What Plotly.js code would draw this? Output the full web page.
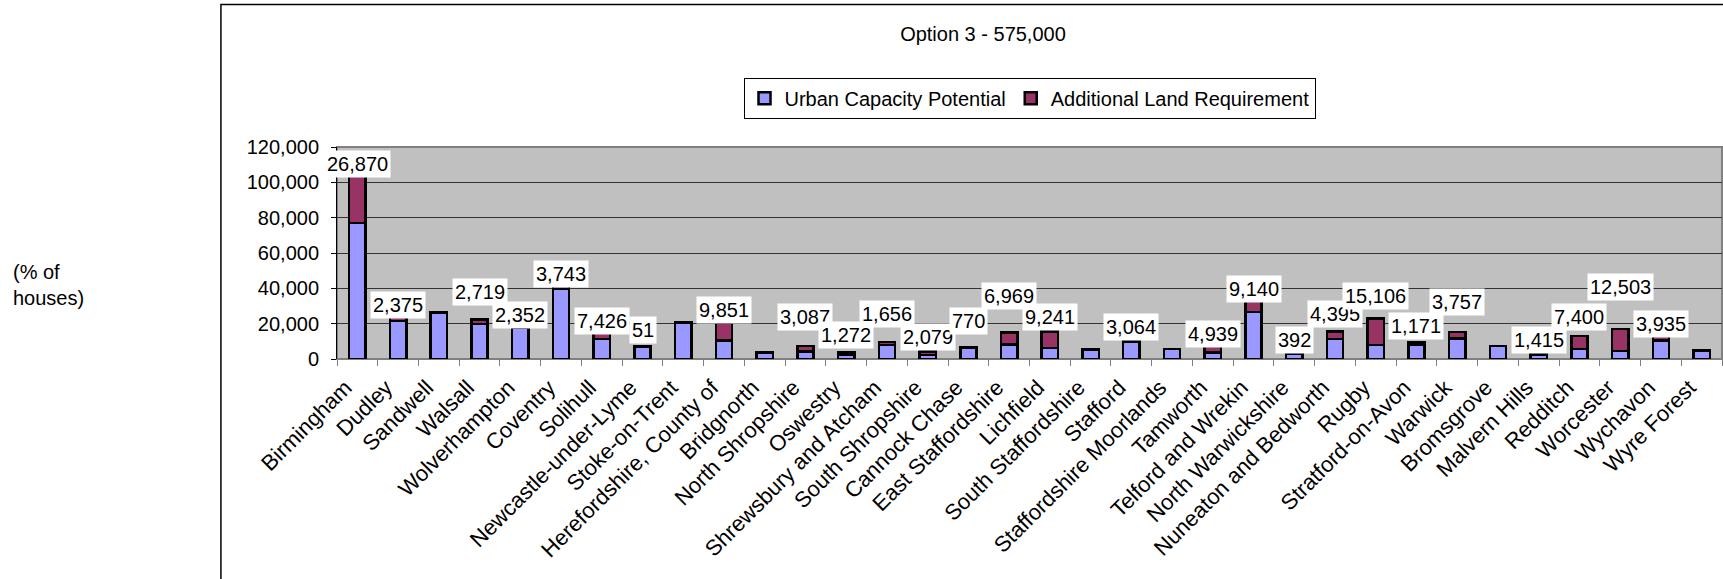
<!DOCTYPE html>
<html>
<head>
<meta charset="utf-8">
<script src="https://cdn.plot.ly/plotly-3.0.1.min.js"></script>
<style>
html,body{margin:0;padding:0;background:#fff;}
#chart{width:1723px;height:579px;}
</style>
</head>
<body>
<div id="chart"></div>
<script>
const categories = ["Birmingham","Dudley","Sandwell","Walsall","Wolverhampton","Coventry","Solihull","Newcastle-under-Lyme","Stoke-on-Trent","Herefordshire, County of","Bridgnorth","North Shropshire","Oswestry","Shrewsbury and Atcham","South Shropshire","Cannock Chase","East Staffordshire","Lichfield","South Staffordshire","Stafford","Staffordshire Moorlands","Tamworth","Telford and Wrekin","North Warwickshire","Nuneaton and Bedworth","Rugby","Stratford-on-Avon","Warwick","Bromsgrove","Malvern Hills","Redditch","Worcester","Wychavon","Wyre Forest"];

const urbanCapacity = [77000,21500,26200,19700,17700,39500,11300,6900,20800,10500,3700,4300,2400,8000,2300,6100,8100,6300,5400,10000,5600,3700,26700,2900,11200,7900,8100,11500,7300,2600,5700,4600,10500,4700];

const additionalLand = [26870,2375,0,2719,2352,3743,7426,51,0,9851,0,3087,1272,1656,2079,770,6969,9241,0,3064,0,4939,9140,392,4395,15106,1171,3757,0,1415,7400,12503,3935,0];

const yTicks = [0,20000,40000,60000,80000,100000,120000];

// vertical lift (px) of each data label above its column top
const labelLift = [12,12,0,27,9,9,5,17,0,13,0,29,18,28,14,26,36,15,0,9,0,10,7,13,17,22,17,30,0,12,19,42,10,0];

const FONT = "Liberation Sans, Arial, Helvetica, sans-serif";

const traces = [
  {
    type: "bar",
    name: "Urban Capacity Potential",
    x: categories,
    y: urbanCapacity,
    marker: {color: "#9999FF", line: {color: "#000000", width: 2.5}},
    hoverinfo: "x+y"
  },
  {
    type: "bar",
    name: "Additional Land Requirement",
    x: categories,
    y: additionalLand,
    marker: {color: "#993366", line: {color: "#000000", width: 2.5}},
    hoverinfo: "x+y"
  }
];

const annotations = [];
categories.forEach((c, i) => {
  if (additionalLand[i] > 0) {
    annotations.push({
      x: c, y: urbanCapacity[i] + additionalLand[i],
      xref: "x", yref: "y",
      text: additionalLand[i].toLocaleString("en-US"),
      showarrow: false,
      xanchor: "center", yanchor: "middle",
      yshift: labelLift[i],
      bgcolor: "#FFFFFF",
      borderpad: 2,
      font: {family: FONT, size: 20, color: "#000000"}
    });
  }
});
annotations.push({
  xref: "paper", yref: "paper",
  x: -0.2354, y: 0.35,
  xanchor: "left", yanchor: "middle", align: "left",
  text: "(% of<br>houses)",
  showarrow: false,
  font: {family: FONT, size: 20, color: "#000000"}
});

const layout = {
  width: 1723, height: 579,
  margin: {l: 337, r: 1, t: 147, b: 220, pad: 0},
  paper_bgcolor: "#FFFFFF",
  plot_bgcolor: "#C0C0C0",
  font: {family: FONT, size: 20, color: "#000000"},
  barmode: "stack",
  bargap: 0.6,
  title: {
    text: "Option 3 - 575,000",
    font: {family: FONT, size: 20, color: "#000000"},
    x: 0.5705, xref: "container", xanchor: "center",
    y: 0.941, yref: "container", yanchor: "middle"
  },
  showlegend: true,
  legend: {
    orientation: "h",
    x: 0.5, xanchor: "center",
    y: 1.327, yanchor: "top",
    bgcolor: "#FFFFFF",
    bordercolor: "#000000", borderwidth: 1,
    font: {family: FONT, size: 20, color: "#000000"},
    itemwidth: 30,
    traceorder: "normal"
  },
  xaxis: {
    type: "category",
    range: [-0.5, categories.length - 0.5],
    autorange: false,
    tickangle: -45,
    showline: true, linecolor: "#808080", linewidth: 1,
    ticks: "outside", tickson: "boundaries", ticklen: 6, tickcolor: "#808080",
    ticklabelshift: -12,
    ticklabelstandoff: 6,
    showgrid: false, zeroline: false,
    tickfont: {family: FONT, size: 22, color: "#000000"},
    automargin: false
  },
  yaxis: {
    range: [0, 120000],
    autorange: false,
    tickvals: yTicks,
    tickformat: ",d",
    showline: true, linecolor: "#000000", linewidth: 1,
    ticks: "outside", ticklen: 5, tickcolor: "#000000",
    ticklabelstandoff: 8,
    showgrid: true, gridcolor: "#333333", gridwidth: 1,
    zeroline: false,
    tickfont: {family: FONT, size: 20, color: "#000000"},
    automargin: false
  },
  shapes: [
    {type: "rect", xref: "paper", yref: "paper", x0: 0, x1: 1, y0: 0, y1: 1,
     line: {color: "#808080", width: 2}, layer: "below"},
    {type: "rect", xref: "paper", yref: "paper", x0: -0.0838, x1: 1.1, y0: -1.3, y1: 1.672,
     line: {color: "#000000", width: 1.5}, fillcolor: "rgba(0,0,0,0)", layer: "above"}
  ],
  annotations: annotations
};

Plotly.newPlot("chart", traces, layout, {displayModeBar: false, staticPlot: true});
</script>
</body>
</html>
